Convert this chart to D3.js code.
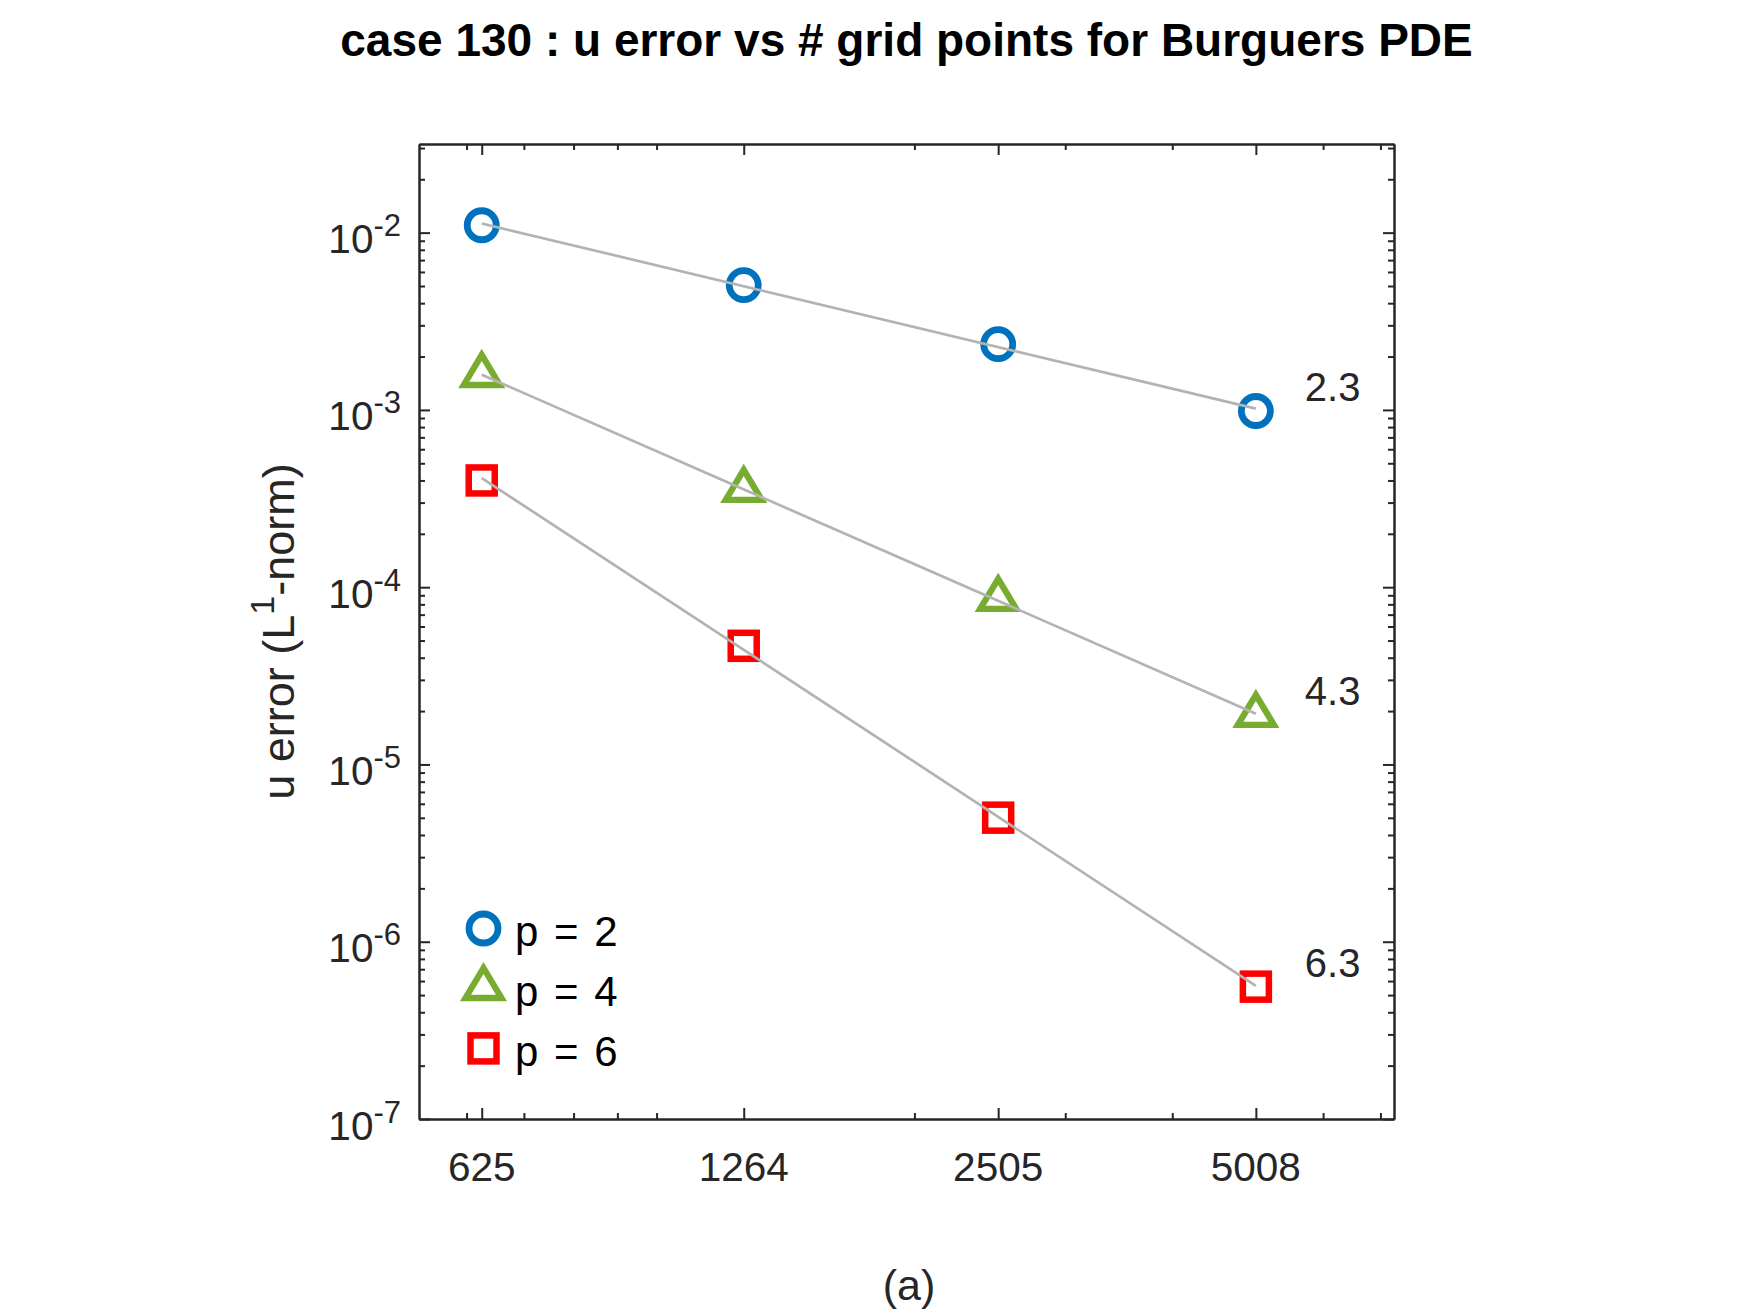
<!DOCTYPE html>
<html>
<head>
	<meta charset="UTF-8" />
	<title>case 130 : u error vs # grid points for Burguers PDE</title>
	<script src="https://d3js.org/d3.v7.min.js"></script>
	<style>
		body { margin: 0; background: #fff; }
		text { font-family: "Liberation Sans", Arial, Helvetica, sans-serif; }
		.axis path, .axis line { stroke: #262626; stroke-width: 2; }
	</style>
</head>
<body>
	<div id="main"></div>
	<script type="text/javascript">
		// data
		var gridPoints = [625, 1264, 2505, 5008];
		var errP2 = [0.01101, 0.00506, 0.00235, 0.000986];
		var errP4 = [0.001574, 0.000354, 0.0000859, 0.00001905];
		var errP6 = [0.000400, 0.0000467, 0.00000501, 0.000000558];
		var seriesNames = ['p = 2', 'p = 4', 'p = 6'];
		var rateLabels = ['2.3', '4.3', '6.3'];
		var yTickValues = [1e-7, 1e-6, 1e-5, 1e-4, 1e-3, 1e-2];
		var yTickExps = ['-7', '-6', '-5', '-4', '-3', '-2'];
		var xMinorTicks = [600, 700, 800, 900, 1000, 2000, 3000, 4000, 6000, 7000];
		var xLimits = [528, 7260];
		var yLimits = [1e-7, Math.pow(10, -1.5)];

		var width = 1751, height = 1313;
		var box = { left: 419, right: 1394, top: 144, bottom: 1119 };
		var ink = '#262626';

		var svg = d3.select('#main').append('svg')
			.attr('width', width).attr('height', height)
			.style('background', '#fff');

		var x = d3.scaleLog().domain(xLimits).range([box.left, box.right]);
		var y = d3.scaleLog().domain(yLimits).range([box.bottom, box.top]);

		// minor y ticks 2..9 per decade
		var yMinorTicks = [];
		for (var k = -7; k <= -2; k++) {
			for (var m = 2; m <= 9; m++) {
				var v = m * Math.pow(10, k);
				if (v < yLimits[1]) yMinorTicks.push(v);
			}
		}

		var major = 11, minor = 6;

		function addAxis(gen, tr, vals, size) {
			svg.append('g').attr('class', 'axis').attr('transform', tr)
				.call(gen.tickValues(vals).tickSize(-size).tickSizeOuter(0).tickFormat(''))
				.selectAll('text').remove();
		}
		addAxis(d3.axisBottom(x), 'translate(0,' + box.bottom + ')', gridPoints, major);
		addAxis(d3.axisBottom(x), 'translate(0,' + box.bottom + ')', xMinorTicks, minor);
		addAxis(d3.axisTop(x), 'translate(0,' + box.top + ')', gridPoints, major);
		addAxis(d3.axisTop(x), 'translate(0,' + box.top + ')', xMinorTicks, minor);
		addAxis(d3.axisLeft(y), 'translate(' + box.left + ',0)', yTickValues, major);
		addAxis(d3.axisLeft(y), 'translate(' + box.left + ',0)', yMinorTicks, minor);
		addAxis(d3.axisRight(y), 'translate(' + box.right + ',0)', yTickValues, major);
		addAxis(d3.axisRight(y), 'translate(' + box.right + ',0)', yMinorTicks, minor);

		// x tick labels
		svg.append('g').selectAll('text').data(gridPoints).enter()
			.append('text')
			.attr('x', d => x(d)).attr('y', box.bottom + 62)
			.attr('text-anchor', 'middle')
			.attr('font-size', 40.5).attr('fill', ink)
			.text(d => d);

		// y tick labels 10^k
		var yl = svg.append('g').selectAll('text').data(yTickValues).enter()
			.append('text')
			.attr('x', 401).attr('y', d => y(d) + 20.5)
			.attr('text-anchor', 'end')
			.attr('font-size', 40.5).attr('fill', ink);
		yl.append('tspan').text('10');
		yl.append('tspan').attr('dy', -17).attr('font-size', 31).text((d, i) => yTickExps[i]);

		// markers
		var series = [
			{ name: seriesNames[0], vals: errP2, color: '#0072BD', shape: 'circle', rate: rateLabels[0] },
			{ name: seriesNames[1], vals: errP4, color: '#77AC30', shape: 'triangle', rate: rateLabels[1] },
			{ name: seriesNames[2], vals: errP6, color: '#FF0000', shape: 'square', rate: rateLabels[2] }
		];

		function drawMarker(g, shape, color) {
			if (shape === 'circle') {
				g.append('circle').attr('r', 14.5).attr('fill', 'none')
					.attr('stroke', color).attr('stroke-width', 6.8);
			} else if (shape === 'triangle') {
				g.append('path').attr('d', 'M0,-20L18,10L-18,10Z').attr('fill', 'none')
					.attr('stroke', color).attr('stroke-width', 6.3).attr('stroke-linejoin', 'miter');
			} else {
				g.append('rect').attr('x', -13).attr('y', -13).attr('width', 26).attr('height', 26)
					.attr('fill', 'none').attr('stroke', color).attr('stroke-width', 6.5);
			}
		}

		series.forEach(function (s) {
			s.vals.forEach(function (v, i) {
				var g = svg.append('g').attr('transform', 'translate(' + x(gridPoints[i]) + ',' + y(v) + ')');
				drawMarker(g, s.shape, s.color);
			});
		});

		// least-squares rate lines in log-log space
		function fit(xs, ys) {
			var lx = xs.map(Math.log10), ly = ys.map(Math.log10);
			var mx = d3.mean(lx), my = d3.mean(ly);
			var sxy = d3.sum(lx, (d, i) => (d - mx) * (ly[i] - my));
			var sxx = d3.sum(lx, d => (d - mx) * (d - mx));
			var b = sxy / sxx;
			return function (xv) { return Math.pow(10, my + b * (Math.log10(xv) - mx)); };
		}

		var line = d3.line().x(d => x(d[0])).y(d => y(d[1]));
		series.forEach(function (s) {
			var f = fit(gridPoints, s.vals);
			var ends = [gridPoints[0], gridPoints[gridPoints.length - 1]];
			svg.append('path')
				.attr('d', line(ends.map(d => [d, f(d)])))
				.attr('fill', 'none').attr('stroke', '#b3b3b3').attr('stroke-width', 2.7);
			svg.append('text')
				.attr('x', x(ends[1]) + 49)
				.attr('y', y(s.vals[s.vals.length - 1]) - 10)
				.attr('font-size', 40).attr('fill', ink)
				.text(s.rate);
		});

		// legend
		var legendY = [928.5, 988, 1048.4];
		series.forEach(function (s, i) {
			var g = svg.append('g').attr('transform', 'translate(483.5,' + legendY[i] + ')');
			drawMarker(g, s.shape, s.color);
			svg.append('text')
				.attr('x', 515).attr('y', legendY[i] + 17.5)
				.attr('font-size', 42).attr('word-spacing', 4).attr('fill', '#000')
				.text(s.name);
		});

		// title
		svg.append('text')
			.attr('x', (box.left + box.right) / 2).attr('y', 56)
			.attr('text-anchor', 'middle')
			.attr('font-size', 46).attr('font-weight', 'bold').attr('fill', '#000')
			.text('case 130 : u error vs # grid points for Burguers PDE');

		// y label
		var ylab = svg.append('text')
			.attr('transform', 'translate(294,' + (box.top + box.bottom) / 2 + ') rotate(-90)')
			.attr('text-anchor', 'middle')
			.attr('font-size', 45).attr('fill', ink);
		ylab.append('tspan').text('u error (L');
		ylab.append('tspan').attr('dy', -20).attr('font-size', 34).text('1');
		ylab.append('tspan').attr('dy', 20).text('-norm)');

		// x label
		svg.append('text')
			.attr('x', 909).attr('y', 1300)
			.attr('text-anchor', 'middle')
			.attr('font-size', 43).attr('fill', ink)
			.text('(a)');
	</script>
</body>
</html>
